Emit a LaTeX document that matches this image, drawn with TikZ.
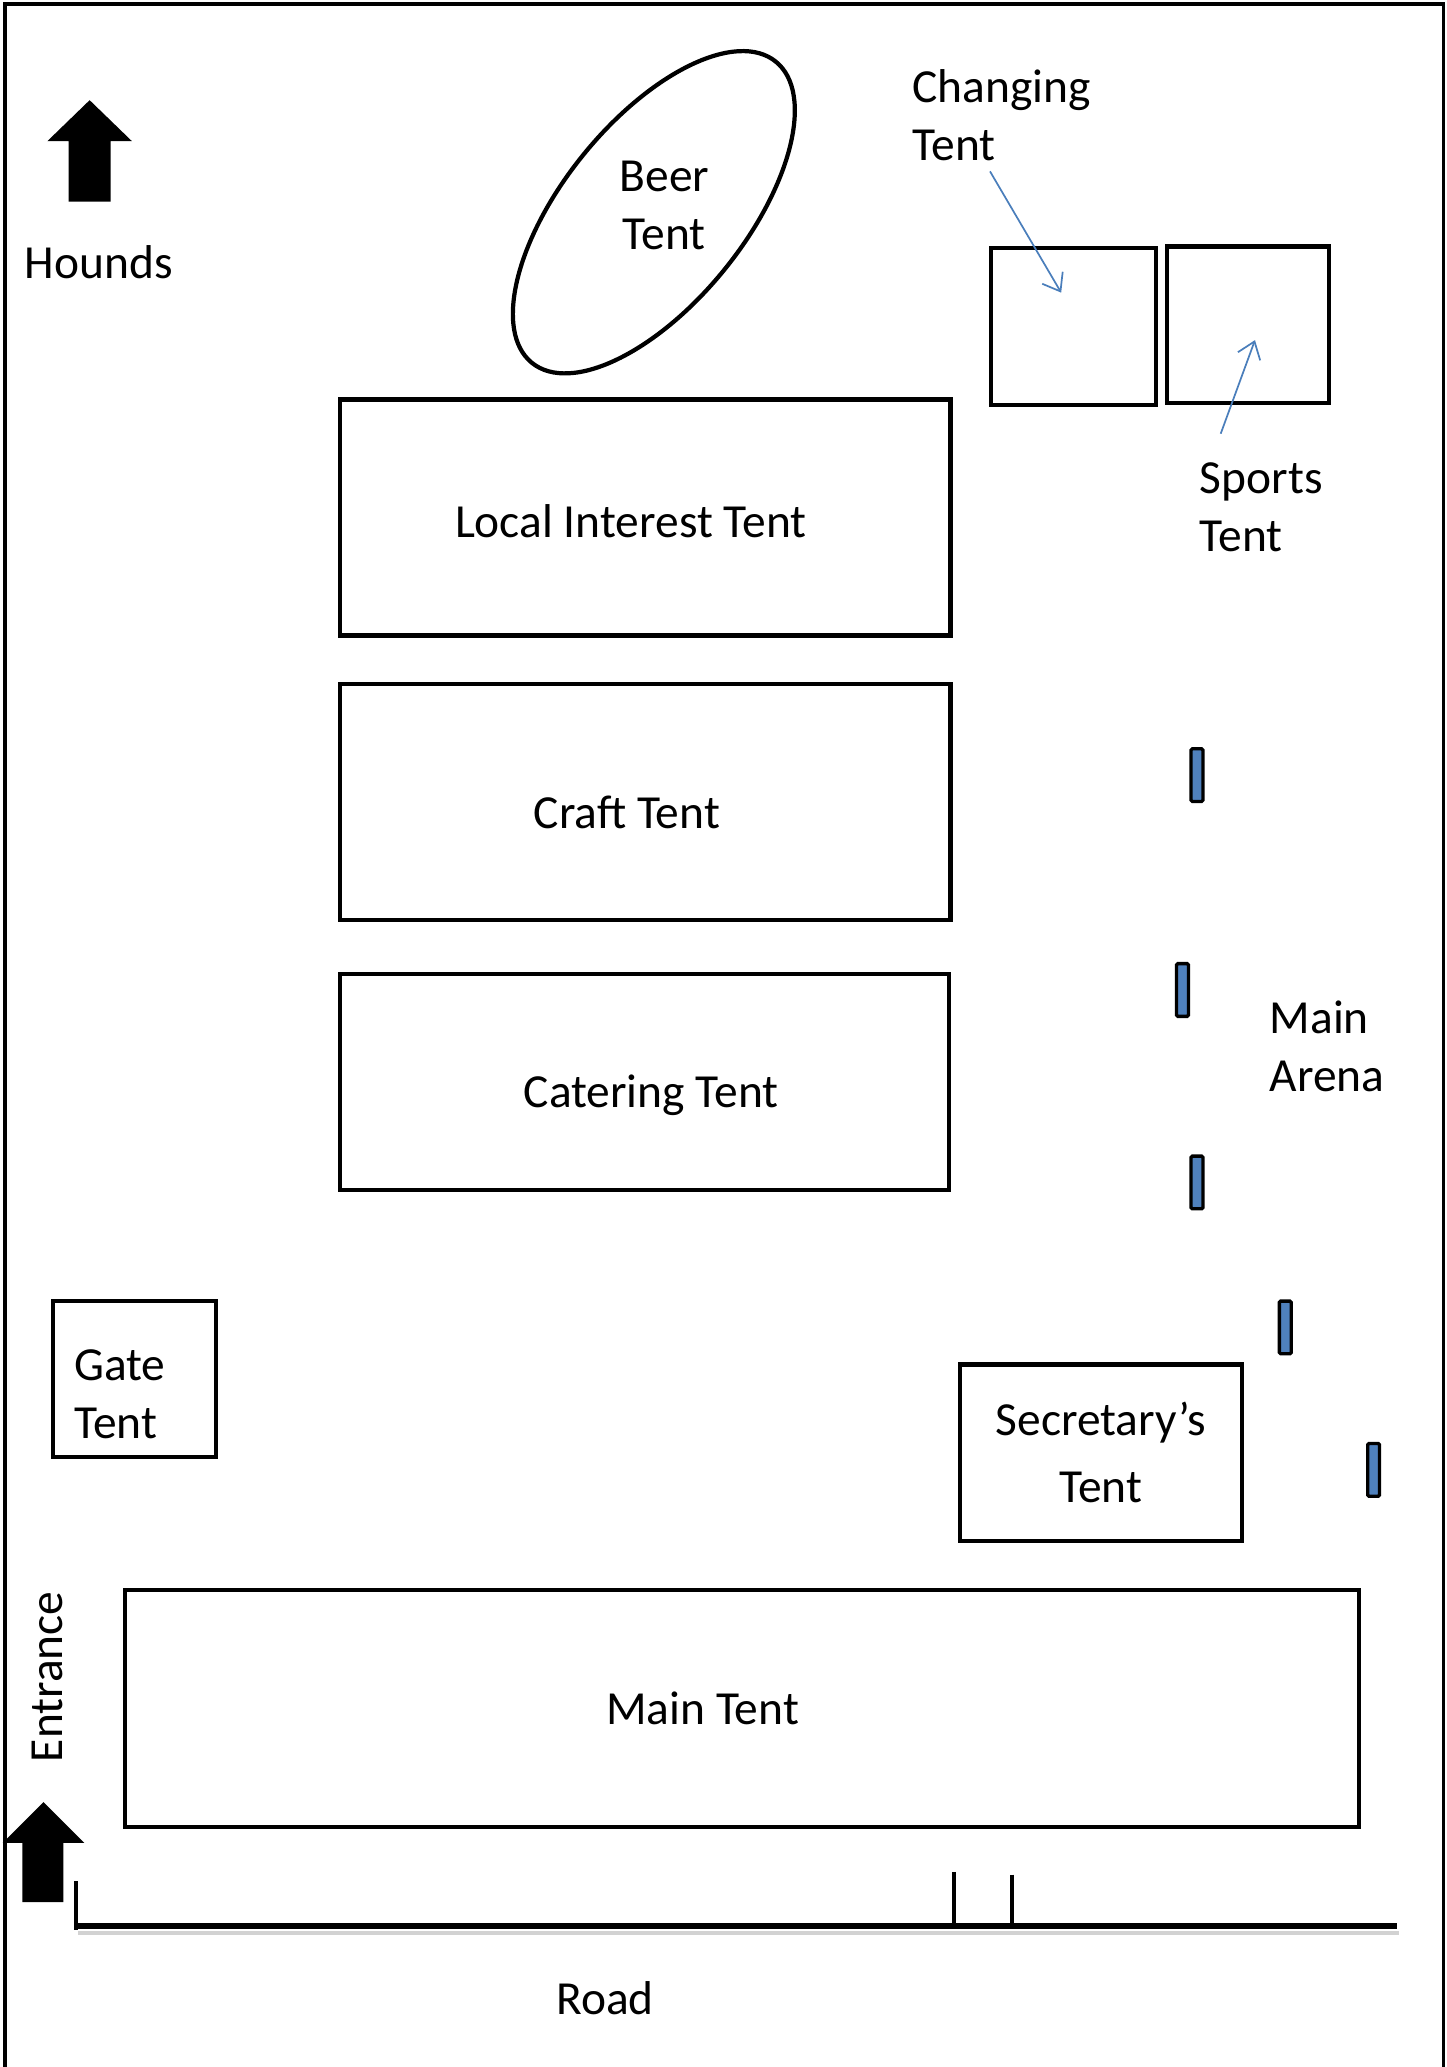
\documentclass[tikz,border=0pt]{standalone}
\usepackage{fontspec}
\setmainfont{Carlito}
\usetikzlibrary{shapes.geometric}
\usetikzlibrary{arrows.meta}
\definecolor{pointer}{HTML}{4A7EBB}
\definecolor{postblue}{HTML}{4F81BD}

\tikzset{
  tent/.style={draw, line width=3.2pt, inner sep=0pt, align=center},
  lbl/.style={inner sep=0pt, align=left},
  pointer/.style={draw=pointer, line width=1.3pt, -{Straight Barb[length=12pt,width=18pt]}},
  fencepost/.style={draw, fill=postblue, line width=2.5pt, minimum width=9pt, minimum height=40pt, inner sep=0pt, rounded corners=1pt},
}

\begin{document}
\begin{tikzpicture}[x=1pt,y=-1pt,font=\fontsize{36}{44}\selectfont]
  \useasboundingbox (0,0) rectangle (1097,1568);
  % field boundary
  \draw[line width=3pt] (4,1568) -- (4,3) -- (1095,3) -- (1095,1568);

  % north arrow
  \fill (68,76) -- (100,107) -- (84,107) -- (84,153) -- (52,153) -- (52,107) -- (36,107) -- cycle;
  \node[lbl] (hounds) at (75,199) {Hounds};

  % beer tent
  \node[draw, ellipse, line width=3.2pt, minimum width=294pt, minimum height=138pt, inner sep=0pt, rotate=51] (beer) at (496,161) {};
  \node[lbl, align=center] (beerlbl) at (504,156) {Beer\\Tent};

  % tents in the middle
  \node[tent, minimum width=463pt, minimum height=179pt,
        label={[xshift=-11pt,yshift=-3pt]center:Local Interest Tent}] (local) at (489.5,392.5) {};
  \node[tent, minimum width=463pt, minimum height=179pt,
        label={[xshift=-14pt,yshift=-8pt]center:Craft Tent}] (craft) at (489.5,608.5) {};
  \node[tent, minimum width=462pt, minimum height=164pt,
        label={[xshift=5pt,yshift=-10pt]center:Catering Tent}] (catering) at (489,821) {};

  % changing and sports tents
  \node[tent, minimum width=125pt, minimum height=119pt] (changing) at (814.5,247.5) {};
  \node[tent, minimum width=123pt, minimum height=119pt] (sports) at (946.5,246.5) {};
  \node[lbl, anchor=west] (chglbl) at (692,87.5) {Changing\\Tent};
  \node[lbl, anchor=west] (sptlbl) at (910,385) {Sports\\Tent};
  \coordinate (chgfrom) at (751,130);
  \coordinate (chgto) at (805,222);
  \coordinate (sptfrom) at (926,329);
  \coordinate (sptto) at (952,258);
  \draw[pointer] (chgfrom) -- (chgto);
  \draw[pointer] (sptfrom) -- (sptto);

  % main arena fence
  \foreach \px/\py [count=\i] in {908/588, 897/751, 908/897, 975/1007, 1042/1115}
    \node[fencepost] (post\i) at (\px,\py) {};
  \node[lbl, anchor=west] (arena) at (963,794) {Main\\Arena};

  % gate and secretary
  \node[tent, minimum width=124pt, minimum height=118pt,
        label={[align=left,xshift=-11pt,yshift=-12pt]center:Gate\\Tent}] (gate) at (102,1046) {};
  \node[tent, minimum width=214pt, minimum height=134pt, font=\fontsize{36}{51}\selectfont] (secretary) at (835,1102) {Secretary’s\\Tent};

  % main tent
  \node[tent, minimum width=936pt, minimum height=180pt,
        label={[xshift=-30pt]center:Main Tent}] (maintent) at (563,1296) {};

  % entrance
  \node[lbl, rotate=90] (entrance) at (36,1272) {Entrance};
  \fill (33,1367) -- (64,1398) -- (48,1398) -- (48,1443) -- (17,1443) -- (17,1398) -- (2,1398) -- cycle;

  % road
  \draw[gray!35, line width=3pt] (59,1466) -- (1061,1466);
  \draw[line width=4pt] (57,1461) -- (1060,1461);
  \draw[line width=3pt] (58,1427) -- (58,1464);
  \draw[line width=3pt] (724,1420) -- (724,1461);
  \draw[line width=3pt] (768,1422) -- (768,1461);
  \node[lbl] (road) at (459,1516) {Road};
\end{tikzpicture}
\end{document}
